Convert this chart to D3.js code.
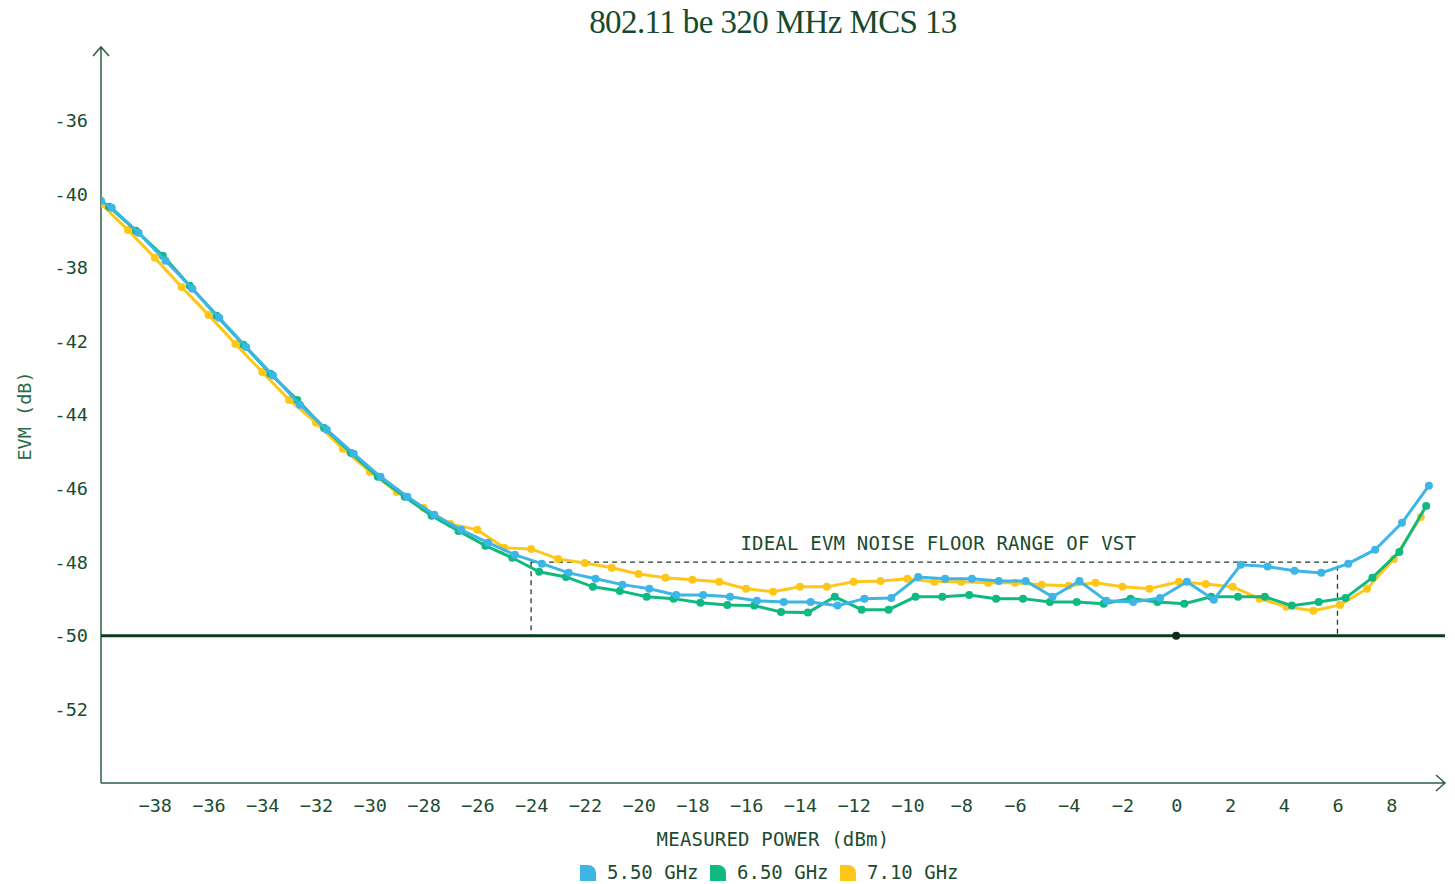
<!DOCTYPE html>
<html>
<head>
<meta charset="utf-8">
<script src="https://cdn.jsdelivr.net/npm/d3@7/dist/d3.min.js"></script>
<style>
  body { margin: 0; background: #fff; }
  text { fill: #1b4b2f; }
</style>
</head>
<body>
<div class="chart"></div>
<script>
// measured power (dBm) and EVM (dB) per carrier
var power550 = [-40.0, -39.6, -38.6, -37.6, -36.6, -35.6, -34.6, -33.6, -32.6, -31.6, -30.6,
    -29.6, -28.6, -27.6, -26.6, -25.6, -24.6, -23.6, -22.6, -21.6, -20.6,
    -19.6, -18.6, -17.6, -16.6, -15.6, -14.6, -13.6, -12.6, -11.6, -10.6,
    -9.6, -8.6, -7.6, -6.6, -5.6, -4.6, -3.6, -2.6, -1.6, -0.6,
    0.4, 1.4, 2.4, 3.4, 4.4, 5.4, 6.4, 7.4, 8.4, 9.4];
var evm550 = [-38.18, -38.37, -39.05, -39.81, -40.57, -41.36, -42.15, -42.93, -43.72, -44.40, -45.05,
    -45.68, -46.22, -46.71, -47.12, -47.47, -47.80, -48.04, -48.29, -48.45, -48.61,
    -48.72, -48.89, -48.89, -48.94, -49.05, -49.08, -49.08, -49.18, -48.99, -48.97,
    -48.40, -48.45, -48.45, -48.51, -48.51, -48.94, -48.51, -49.05, -49.08, -48.97,
    -48.53, -49.02, -48.07, -48.12, -48.23, -48.29, -48.04, -47.66, -46.93, -45.92];

var power650 = [-39.7, -38.7, -37.7, -36.7, -35.7, -34.7, -33.7, -32.7, -31.7, -30.7,
    -29.7, -28.7, -27.7, -26.7, -25.7, -24.7, -23.7, -22.7, -21.7, -20.7,
    -19.7, -18.7, -17.7, -16.7, -15.7, -14.7, -13.7, -12.7, -11.7, -10.7,
    -9.7, -8.7, -7.7, -6.7, -5.7, -4.7, -3.7, -2.7, -1.7, -0.7,
    0.3, 1.3, 2.3, 3.3, 4.3, 5.3, 6.3, 7.3, 8.3, 9.3];
var evm650 = [-38.34, -38.99, -39.67, -40.49, -41.30, -42.09, -42.88, -43.59, -44.35, -45.03,
    -45.68, -46.22, -46.74, -47.15, -47.55, -47.88, -48.26, -48.40, -48.67, -48.78,
    -48.94, -48.99, -49.10, -49.16, -49.18, -49.35, -49.37, -48.94, -49.29, -49.29,
    -48.94, -48.94, -48.89, -48.99, -48.99, -49.08, -49.08, -49.13, -48.99, -49.08,
    -49.13, -48.94, -48.94, -48.94, -49.18, -49.08, -48.97, -48.42, -47.72, -46.47];

var power710 = [-40.0, -39.0, -38.0, -37.0, -36.0, -35.0, -34.0, -33.0, -32.0, -31.0,
    -30.0, -29.0, -28.0, -27.0, -26.0, -25.0, -24.0, -23.0, -22.0, -21.0,
    -20.0, -19.0, -18.0, -17.0, -16.0, -15.0, -14.0, -13.0, -12.0, -11.0,
    -10.0, -9.0, -8.0, -7.0, -6.0, -5.0, -4.0, -3.0, -2.0, -1.0,
    0.1, 1.1, 2.1, 3.1, 4.1, 5.1, 6.1, 7.1, 8.1, 9.1];
var evm710 = [-38.26, -38.97, -39.73, -40.52, -41.28, -42.07, -42.83, -43.59, -44.21, -44.92,
    -45.54, -46.09, -46.52, -46.96, -47.12, -47.61, -47.64, -47.91, -48.02, -48.15,
    -48.32, -48.42, -48.48, -48.53, -48.72, -48.80, -48.67, -48.67, -48.53, -48.51,
    -48.45, -48.53, -48.53, -48.56, -48.56, -48.61, -48.64, -48.56, -48.67, -48.72,
    -48.53, -48.59, -48.67, -48.99, -49.21, -49.32, -49.16, -48.72, -47.91, -46.77];

var seriesNames = ["5.50 GHz", "6.50 GHz", "7.10 GHz"];
var seriesColors = ["#3db5e6", "#10b882", "#ffc61a"];

var xTicks = [-38, -36, -34, -32, -30, -28, -26, -24, -22, -20, -18, -16, -14, -12, -10, -8, -6, -4, -2, 0, 2, 4, 6, 8];
var yTicks = [-52, -50, -48, -46, -44, -42, -40, -38, -36];
var yTickLabels = ["-52", "-50", "-48", "-46", "-44", "-42", "-38", "-40", "-36"];

var floorLevel = -50;
var floorRange = [-24, 6];
var floorTop = -48;

var width = 1455, height = 884;
var mono = "'DejaVu Sans Mono', monospace";
var axisColor = "#2f5f45";

var x = d3.scaleLinear().domain([-40, 10]).range([101, 1445]);
var y = d3.scaleLinear().domain([-54, -34]).range([783, 47]);

var svg = d3.select(".chart").append("svg")
    .attr("width", width)
    .attr("height", height);

svg.append("defs").append("clipPath").attr("id", "plot")
    .append("rect")
    .attr("x", x(-40)).attr("y", y(-34))
    .attr("width", x(10) - x(-40)).attr("height", y(-54) - y(-34));

// title
svg.append("text")
    .attr("x", 773).attr("y", 33)
    .attr("text-anchor", "middle")
    .style("font-family", "'Liberation Serif', serif")
    .style("font-size", "33px")
    .style("letter-spacing", "-0.6px")
    .style("fill", "#174a2c")
    .text("802.11 be 320 MHz MCS 13");

// axes
var yAxis = d3.axisLeft(y).tickValues(yTicks).tickSize(0).tickPadding(12)
    .tickFormat(function(d, i) { return yTickLabels[i]; });
var xAxis = d3.axisBottom(x).tickValues(xTicks).tickSize(0).tickPadding(12)
    .tickFormat(d3.format("d"));

var gy = svg.append("g").attr("transform", "translate(" + x(-40) + ",0)").call(yAxis);
var gx = svg.append("g").attr("transform", "translate(0," + y(-54) + ")").call(xAxis);
[gx, gy].forEach(function(g) {
    g.select(".domain").remove();
    g.selectAll("text")
        .style("font-family", mono)
        .style("font-size", "18.5px")
        .style("fill", "#1b4b2f");
});
gx.selectAll("text").attr("dy", "0.9em");
gy.selectAll("text").attr("dx", "-1px");

svg.append("path")
    .attr("d", "M" + x(-40) + "," + y(-54) + "V" + y(-34) + "M" + (x(-40) - 8) + "," + (y(-34) + 9) +
        "L" + x(-40) + "," + y(-34) + "L" + (x(-40) + 8) + "," + (y(-34) + 9))
    .attr("fill", "none").attr("stroke", axisColor).attr("stroke-width", 1.5);
svg.append("path")
    .attr("d", "M" + x(-40) + "," + y(-54) + "H" + x(10) + "M" + (x(10) - 9) + "," + (y(-54) - 8) +
        "L" + x(10) + "," + y(-54) + "L" + (x(10) - 9) + "," + (y(-54) + 8))
    .attr("fill", "none").attr("stroke", axisColor).attr("stroke-width", 1.5);

// axis titles
svg.append("text")
    .attr("x", 773).attr("y", 846)
    .attr("text-anchor", "middle")
    .style("font-family", mono).style("font-size", "19px")
    .style("letter-spacing", "0.2px")
    .text("MEASURED POWER (dBm)");
svg.append("text")
    .attr("transform", "translate(31,416) rotate(-90)")
    .attr("text-anchor", "middle")
    .style("font-family", mono).style("font-size", "18.5px")
    .style("fill", "#2a6a48")
    .text("EVM (dB)");

// noise floor range box
svg.append("rect")
    .attr("x", x(floorRange[0])).attr("y", y(floorTop))
    .attr("width", x(floorRange[1]) - x(floorRange[0]))
    .attr("height", y(floorLevel) - y(floorTop))
    .attr("fill", "none").attr("stroke", "#1f3d2c")
    .attr("stroke-width", 1.3).attr("stroke-dasharray", "5,4");
svg.append("text")
    .attr("x", x((floorRange[0] + floorRange[1]) / 2) + 4).attr("y", y(floorTop) - 12)
    .attr("text-anchor", "middle")
    .style("font-family", mono).style("font-size", "19px")
    .style("letter-spacing", "0.2px")
    .text("IDEAL EVM NOISE FLOOR RANGE OF VST");

svg.append("line")
    .attr("x1", x(-40)).attr("x2", x(10))
    .attr("y1", y(floorLevel)).attr("y2", y(floorLevel))
    .attr("stroke", "#0d3b22").attr("stroke-width", 3);

// series
var series = [
    { name: seriesNames[2], color: seriesColors[2], xs: power710, ys: evm710 },
    { name: seriesNames[1], color: seriesColors[1], xs: power650, ys: evm650 },
    { name: seriesNames[0], color: seriesColors[0], xs: power550, ys: evm550 }
];

var line = d3.line()
    .x(function(d) { return x(d[0]); })
    .y(function(d) { return y(d[1]); });

var plot = svg.append("g").attr("clip-path", "url(#plot)");
series.forEach(function(s) {
    var pts = d3.zip(s.xs, s.ys);
    plot.append("path")
        .datum(pts)
        .attr("d", line)
        .attr("fill", "none")
        .attr("stroke", s.color)
        .attr("stroke-width", 3);
    plot.selectAll(null)
        .data(pts)
        .enter().append("circle")
        .attr("cx", function(d) { return x(d[0]); })
        .attr("cy", function(d) { return y(d[1]); })
        .attr("r", 4)
        .attr("fill", s.color);
});

svg.append("circle")
    .attr("cx", x(0)).attr("cy", y(floorLevel))
    .attr("r", 4).attr("fill", "#0d2b18");

// legend
var legend = svg.append("g").attr("transform", "translate(580,865)");
var legendItems = legend.selectAll("g")
    .data(seriesNames)
    .enter().append("g")
    .attr("transform", function(d, i) { return "translate(" + (i * 130) + ",0)"; });
legendItems.append("path")
    .attr("d", "M0,0H8A8,8 0 0 1 16,8V16H0Z")
    .attr("fill", function(d, i) { return seriesColors[i]; });
legendItems.append("text")
    .attr("x", 27).attr("y", 14)
    .style("font-family", mono).style("font-size", "19px")
    .text(function(d) { return d; });
</script>
</body>
</html>
